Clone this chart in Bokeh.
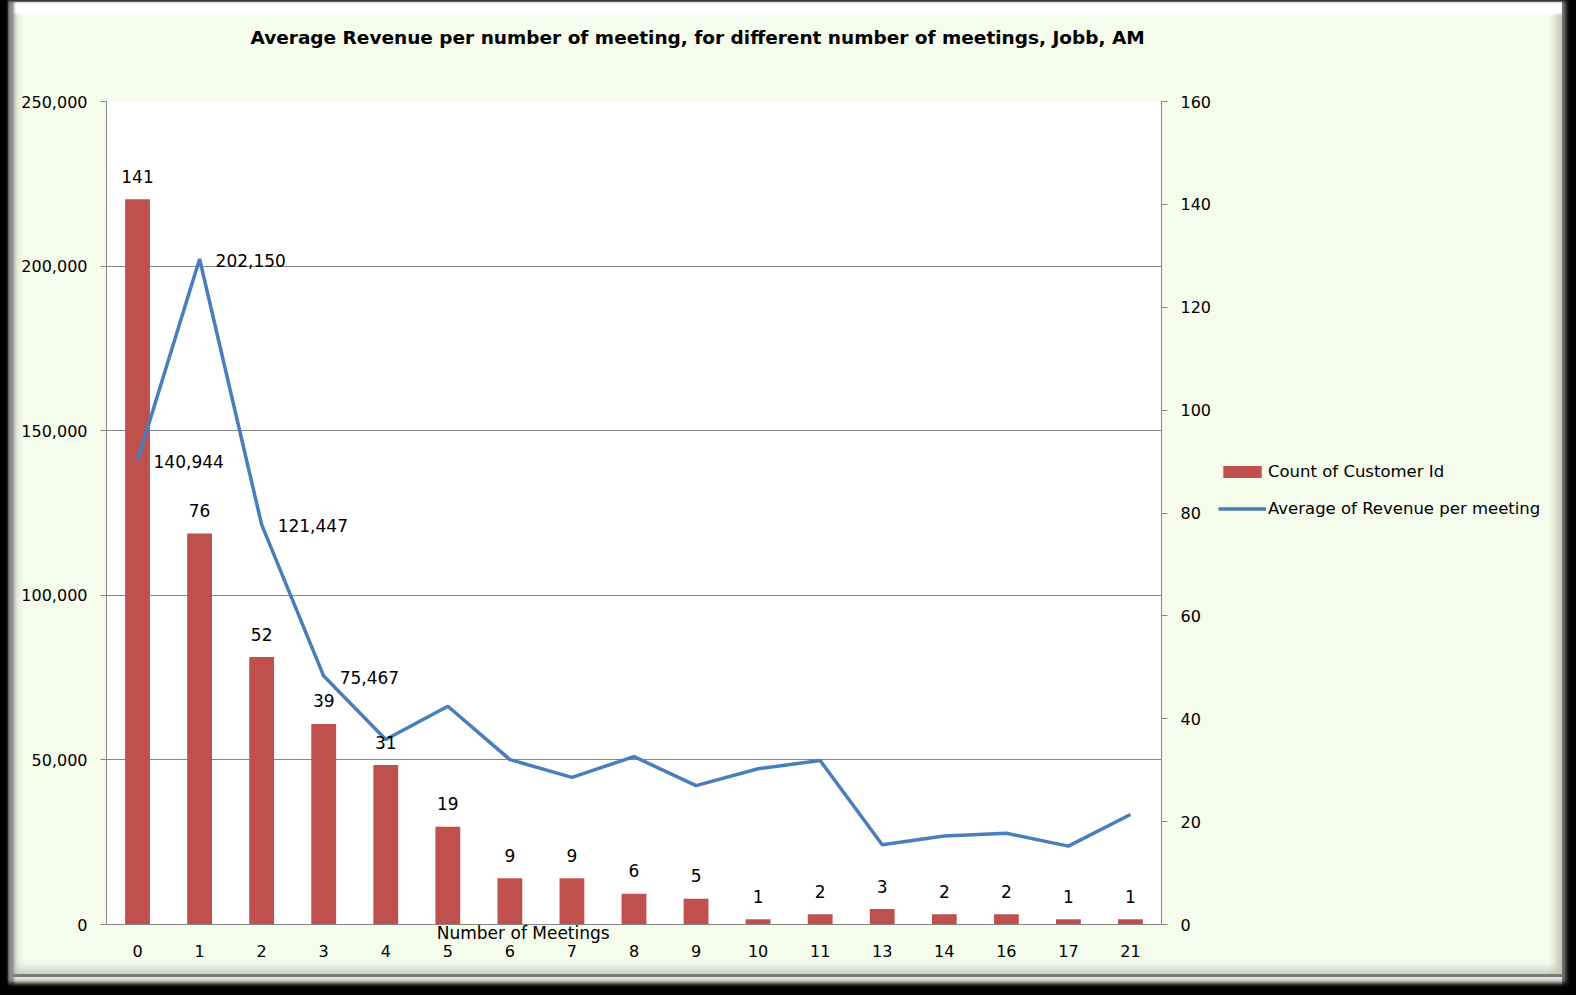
import numpy as np
from bokeh.plotting import figure
from bokeh.layouts import row
from bokeh.models import (Range1d, LinearAxis, Legend, LegendItem, Title,
                          ColumnDataSource, FixedTicker, NumeralTickFormatter)
from bokeh.core.properties import value
from bokeh.embed import file_html
from bokeh.resources import INLINE

# ---------------- data ----------------
meetings = ["0", "1", "2", "3", "4", "5", "6", "7", "8", "9", "10", "11",
            "13", "14", "16", "17", "21"]
customer_count = [141, 76, 52, 39, 31, 19, 9, 9, 6, 5, 1, 2, 3, 2, 2, 1, 1]
avg_revenue = [140944, 202150, 121447, 75467, 56200, 66300, 50100, 44700,
               51000, 42200, 47300, 49800, 24200, 26900, 27700, 23800, 33400]
labelled_meetings = ["0", "1", "2", "3"]
labelled_revenue = [140944, 202150, 121447, 75467]
revenue_labels = ["140,944", "202,150", "121,447", "75,467"]
left_ticks = [0, 50000, 100000, 150000, 200000, 250000]
right_ticks = [0, 20, 40, 60, 80, 100, 120, 140, 160]

title_text = "Average Revenue  per number of meeting, for different number of meetings, Jobb, AM"
x_title = "Number of Meetings"
bar_name = "Count of Customer Id"
line_name = "Average of Revenue per meeting"

FONT = "DejaVu Sans"
BAR_COLOR = "#C0504D"
LINE_COLOR = "#4A7EBB"
GRID_COLOR = "#868686"
PANEL = "#F6FCEB"

src = ColumnDataSource(dict(m=meetings, count=customer_count, rev=avg_revenue,
                            count_label=[str(c) for c in customer_count]))
lsrc = ColumnDataSource(dict(m=labelled_meetings, rev=labelled_revenue, txt=revenue_labels))

MAIN_W = 1216
p = figure(x_range=meetings, y_range=Range1d(0, 250000), width=MAIN_W, height=995,
           output_backend="svg", toolbar_location=None,
           min_border_left=106, min_border_right=55, min_border_top=101, min_border_bottom=71,
           background_fill_color="white", border_fill_alpha=0, outline_line_color=None)
p.extra_y_ranges = {"count": Range1d(0, 160)}

# title: a blank spacer next to the frame, then the real title above it
p.add_layout(Title(text=" ", standoff=26, text_font=FONT, text_font_size="18.5px"), "above")
p.add_layout(Title(text=title_text, align="left", offset=144, standoff=10,
                   text_font=FONT, text_font_style="bold", text_font_size="18.5px",
                   text_color="black"), "above")

bars = p.vbar(x="m", top="count", width=0.4, source=src, y_range_name="count",
              fill_color=BAR_COLOR, line_color=None)
line = p.line(x="m", y="rev", source=src, line_color=LINE_COLOR, line_width=3.5)

p.text(x="m", y="count", text="count_label", source=src, y_range_name="count",
       y_offset=-23, text_align="center", text_baseline="alphabetic",
       text_font=value(FONT), text_font_size="17px", text_color="black")
p.text(x="m", y="rev", text="txt", source=lsrc, x_offset=16, y_offset=1,
       text_align="left", text_baseline="alphabetic",
       text_font=value(FONT), text_font_size="17px", text_color="black")

# axes
yl = p.yaxis[0]
yl.ticker = FixedTicker(ticks=left_ticks)
yl.formatter = NumeralTickFormatter(format="0,0")
yr = LinearAxis(y_range_name="count", ticker=FixedTicker(ticks=right_ticks))
p.add_layout(yr, "right")
for ax in (yl, yr):
    ax.axis_line_color = GRID_COLOR
    ax.major_tick_line_color = GRID_COLOR
    ax.major_tick_out = 6
    ax.major_tick_in = 0
    ax.minor_tick_line_color = None
    ax.major_label_standoff = 13
    ax.major_label_text_font = FONT
    ax.major_label_text_font_size = "16px"
    ax.major_label_text_color = "black"

xa = p.xaxis[0]
xa.axis_line_color = GRID_COLOR
xa.major_tick_line_color = None
xa.minor_tick_line_color = None
xa.major_tick_out = 0
xa.major_label_standoff = 20
xa.major_label_text_font = FONT
xa.major_label_text_font_size = "16px"
xa.major_label_text_color = "black"
xa.axis_label = x_title + "\u00a0" * 41
xa.axis_label_standoff = -37
xa.axis_label_text_font = FONT
xa.axis_label_text_font_style = "normal"
xa.axis_label_text_font_size = "17px"
xa.axis_label_text_color = "black"

p.xgrid.grid_line_color = None
p.ygrid.ticker = FixedTicker(ticks=left_ticks)
p.ygrid.grid_line_color = GRID_COLOR

# legend panel (second figure to the right of the plot)
leg = figure(width=1576 - MAIN_W, height=995, output_backend="svg", toolbar_location=None,
             x_range=Range1d(0, 1), y_range=Range1d(0, 1),
             x_axis_type=None, y_axis_type=None, min_border=0,
             background_fill_alpha=0, border_fill_alpha=0, outline_line_color=None)
nan_key = np.array([np.nan])
bar_key = leg.vbar(x=nan_key, top=nan_key, width=0.4, fill_color=BAR_COLOR, line_color=None)
line_key = leg.line(x=nan_key, y=nan_key, line_color=LINE_COLOR, line_width=3.5)
legend = Legend(items=[LegendItem(label=bar_name, renderers=[bar_key]),
                       LegendItem(label=line_name, renderers=[line_key])],
                location=(2, 406), orientation="vertical",
                glyph_width=48, glyph_height=15, label_height=20,
                spacing=17, label_standoff=2, padding=0, margin=0,
                border_line_color=None, background_fill_alpha=0,
                label_text_font=FONT, label_text_font_size="16.5px",
                label_text_color="black")
leg.add_layout(legend)

layout = row(p, leg, spacing=0)
layout.styles = {
    "background-color": PANEL,
    "box-shadow": ("inset 8px 0 2px 0 #000, inset -10px 0 4px 0 #000, "
                   "inset 0 -12px 4px 0 #000, inset 0 2px 0 0 #808080, "
                   "inset 14px 0 3px 0 #8a8a8a, inset -14px 0 0 0 #7a7a7a, "
                   "inset 0 -18px 0 0 #e4e4dc, inset 0 -21px 0 0 #7a7a7a, "
                   "inset 0 14px 3px 0 #ffffff, "
                   "inset 22px 0 8px -6px #c4c9b8, inset -26px 0 8px -6px #c0c6b2, "
                   "inset 0 -32px 8px -6px #c6cbbc"),
}

open("out.html", "w").write(file_html(layout, INLINE, title="Average Revenue per number of meeting"))
